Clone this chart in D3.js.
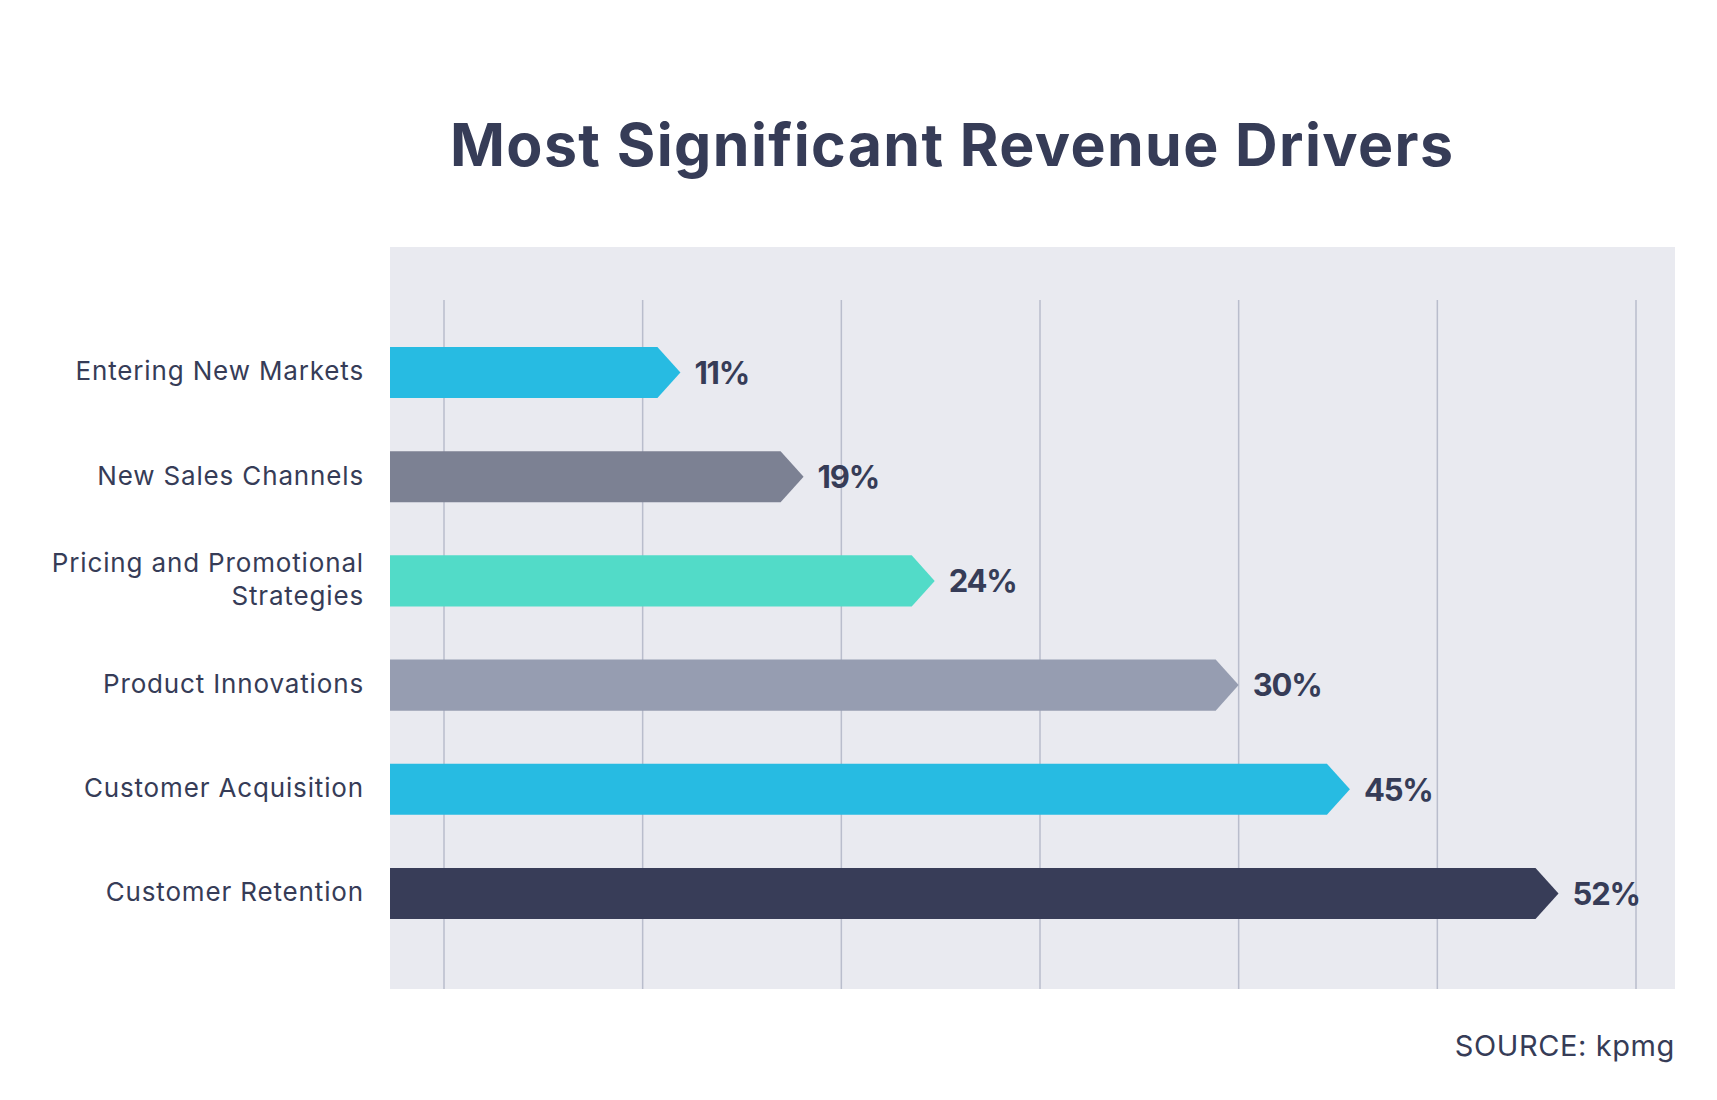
<!DOCTYPE html>
<html>
<head>
<meta charset="utf-8">
<script src="https://cdn.jsdelivr.net/npm/d3@7"></script>
<style>
  html, body { margin: 0; padding: 0; background: #ffffff; }
  svg { display: block; font-family: Inter, "Noto Sans", sans-serif; }
</style>
</head>
<body>
<svg id="chart" width="1717" height="1100"></svg>
<script>
// ---- data ----
const title = "Most Significant Revenue Drivers";
const source = "SOURCE: kpmg";
const categories = [
  "Entering New Markets",
  "New Sales Channels",
  "Pricing and Promotional\nStrategies",
  "Product Innovations",
  "Customer Acquisition",
  "Customer Retention"
];
// printed percentages
const values = [11, 19, 24, 30, 45, 52];
// where each bar's arrow tip reaches on the (unlabelled) gridline axis
const barReach = [11.9, 18.1, 24.7, 40.0, 45.6, 56.1];
const gridTicks = [0, 10, 20, 30, 40, 50, 60];
const barColors = ["#27bbe2", "#7c8193", "#52dbc8", "#969db1", "#27bbe2", "#383d58"];

// ---- layout ----
const W = 1717, H = 1100;
const plot = { left: 390, right: 1675, top: 247, bottom: 989 };
const gridTop = 300;
const textColor = "#363c57";
const tipLen = 23;

const svg = d3.select("#chart");

// title
svg.append("text")
  .attr("x", 951.5).attr("y", 166)
  .attr("text-anchor", "middle")
  .attr("font-size", 59).attr("font-weight", 700)
  .attr("fill", textColor)
  .attr("textLength", 1003).attr("lengthAdjust", "spacing")
  .text(title);

// plot background
svg.append("rect")
  .attr("x", plot.left).attr("y", plot.top)
  .attr("width", plot.right - plot.left).attr("height", plot.bottom - plot.top)
  .attr("fill", "#e9eaf0");

// scales
const x = d3.scaleLinear().domain([0, 60]).range([444, 1636]);
const y = d3.scaleBand().domain(categories)
  .range([320.4, 945.6]).paddingInner(0.51).paddingOuter(0.255);

// gridlines
svg.append("g").selectAll("line").data(gridTicks).join("line")
  .attr("x1", d => x(d)).attr("x2", d => x(d))
  .attr("y1", gridTop).attr("y2", plot.bottom)
  .attr("stroke", "#b9bdcc").attr("stroke-width", 1.5);

// bars (arrow shaped)
const rows = categories.map((c, i) => ({ c, v: values[i], reach: barReach[i], color: barColors[i] }));
const bh = y.bandwidth();
svg.append("g").selectAll("path").data(rows).join("path")
  .attr("d", d => {
    const top = y(d.c), tip = x(d.reach), end = tip - tipLen;
    return `M${plot.left},${top}L${end},${top}L${tip},${top + bh / 2}L${end},${top + bh}L${plot.left},${top + bh}Z`;
  })
  .attr("fill", d => d.color);

// value labels
const vfs = 31;
svg.append("g").selectAll("text").data(rows).join("text")
  .attr("x", d => x(d.reach) + 14)
  .attr("y", d => y(d.c) + bh / 2 + vfs * 0.727 / 2)
  .attr("font-size", vfs).attr("font-weight", 700)
  .attr("letter-spacing", -1.2)
  .attr("fill", textColor)
  .text(d => d.v + "%");

// category labels
const cfs = 26, lineH = 33;
const lab = svg.append("g").selectAll("text").data(rows).join("text")
  .attr("text-anchor", "end")
  .attr("font-size", cfs).attr("font-weight", 400)
  .attr("letter-spacing", 0.85)
  .attr("fill", textColor);
lab.each(function(d) {
  const lines = d.c.split("\n");
  const cy = y(d.c) + bh / 2 - 1.5;
  const base0 = cy + cfs * 0.727 / 2 - (lines.length - 1) * lineH / 2;
  lines.forEach((t, k) => {
    d3.select(this).append("tspan")
      .attr("x", 364).attr("y", base0 + k * lineH)
      .text(t);
  });
});

// source
svg.append("text")
  .attr("x", 1675).attr("y", 1056)
  .attr("text-anchor", "end")
  .attr("font-size", 29).attr("font-weight", 400)
  .attr("letter-spacing", 0.6)
  .attr("fill", textColor)
  .text(source);
</script>
</body>
</html>
